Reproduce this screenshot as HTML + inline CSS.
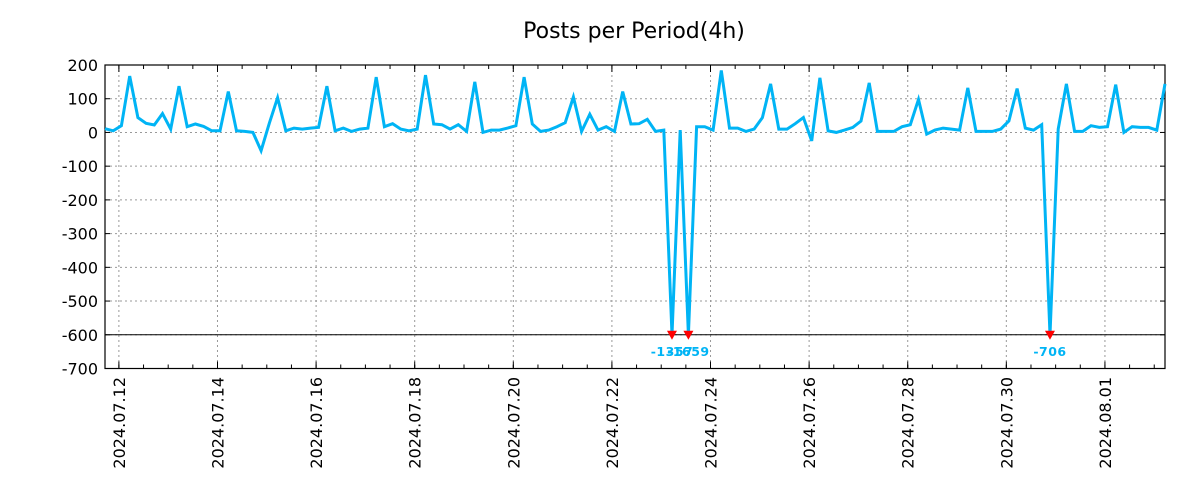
<!DOCTYPE html>
<html><head><meta charset="utf-8"><style>
html,body{margin:0;padding:0;background:#fff;}
svg{display:block;font-family:"DejaVu Sans","Liberation Sans",sans-serif;}
</style></head><body>
<svg id="chart" width="1200" height="500">
<text x="634" y="38" font-size="22" text-anchor="middle" fill="#000">Posts per Period(4h)</text>
<g id="grid"></g><g id="axes"></g><g id="series"></g>
</svg>
<script>
const values = [11,5,20,167,44,27,22,56,10,137,17,25,18,5,5,121,5,3,0,-54,27,103,5,13,10,13,15,137,5,13,3,10,13,164,17,26,10,5,10,170,25,23,10,23,3,150,0,7,7,13,20,164,25,3,7,17,29,105,3,54,7,17,3,121,25,26,39,3,7,-1357,7,-1659,17,17,7,184,13,13,3,10,44,144,10,10,26,44,-25,162,5,0,7,15,34,147,3,3,3,17,23,98,-5,7,13,10,7,132,3,3,3,10,34,130,13,7,23,-706,10,144,3,3,20,15,17,142,0,17,15,15,7,144];
const yTicks = [200,100,0,-100,-200,-300,-400,-500,-600,-700];
const xTickLabels = ["2024.07.12","2024.07.14","2024.07.16","2024.07.18","2024.07.20","2024.07.22","2024.07.24","2024.07.26","2024.07.28","2024.07.30","2024.08.01"];
const firstTickIndex = 1.69;
const clipValue = -600;

const L=105,R=1165,T=65,B=368.5;
const NS="http://www.w3.org/2000/svg";
function xs(i){return L+(i/(values.length-1))*(R-L);}
function ys(v){return T+(200-v)/900*(B-T);}
function mk(tag,attrs,parent){const e=document.createElementNS(NS,tag);for(const k in attrs)e.setAttribute(k,attrs[k]);parent.appendChild(e);return e;}
const grid=document.getElementById('grid'),axes=document.getElementById('axes'),series=document.getElementById('series');

yTicks.forEach(v=>{
  const y=ys(v);
  if(v!==200&&v!==-700){const g=mk('line',{x1:L,x2:R,y1:y,y2:y,stroke:'#999','stroke-dasharray':'2,3','stroke-width':1},grid);
  
  }
  mk('line',{x1:L,x2:L+5,y1:y,y2:y,stroke:'#000'},axes);
  mk('line',{x1:R,x2:R-5,y1:y,y2:y,stroke:'#000'},axes);
  const t=mk('text',{x:L-7,y:y+6,'font-size':16,'text-anchor':'end',fill:'#000'},axes);
  
  
  t.textContent=v;
});
for(let k=-1;k<50;k++){
  const i=firstTickIndex+k*3; if(i<0||i>values.length-1) continue;
  const x=xs(i);
  mk('line',{x1:x,x2:x,y1:B,y2:B-4,stroke:'#000'},axes);
  mk('line',{x1:x,x2:x,y1:T,y2:T+4,stroke:'#000'},axes);
}
xTickLabels.forEach((lab,k)=>{
  const x=xs(firstTickIndex+k*12);
  const g=mk('line',{x1:x,x2:x,y1:T,y2:B,stroke:'#999','stroke-dasharray':'2,3','stroke-width':1},grid);
  
  
  mk('line',{x1:x,x2:x,y1:B,y2:B-7,stroke:'#000'},axes);
  mk('line',{x1:x,x2:x,y1:T,y2:T+7,stroke:'#000'},axes);
  const t=mk('text',{x:0,y:0,'font-size':16,'text-anchor':'end',fill:'#000',transform:`translate(${x+6},377) rotate(-90)`},axes);
  
  
  t.textContent=lab;
});
const frame=mk('rect',{x:L,y:T,width:R-L,height:B-T,fill:'none',stroke:'#000','stroke-width':1.2},axes);


const thr=mk('line',{x1:L,x2:R,y1:ys(clipValue),y2:ys(clipValue),stroke:'#000','stroke-width':1},axes);



const pts=values.map((v,i)=>xs(i).toFixed(1)+','+ys(Math.max(v,clipValue)).toFixed(1)).join(' ');
const pl=mk('polyline',{points:pts,fill:'none',stroke:'#00b4f5','stroke-width':3,'stroke-linejoin':'miter'},series);


values.forEach((v,i)=>{
  if(v>=clipValue) return;
  const x=xs(i),y=ys(clipValue);
  const m=mk('polygon',{points:`${x-5},${y-4} ${x+5},${y-4} ${x},${y+5}`,fill:'#f00'},series);
  
  
  const t=mk('text',{x:x,y:y+21,'font-size':12.5,'font-weight':'bold','letter-spacing':'0.5','text-anchor':'middle',fill:'#00b4f5'},series);
  
  
  t.textContent=v;
});
</script>
</body></html>
